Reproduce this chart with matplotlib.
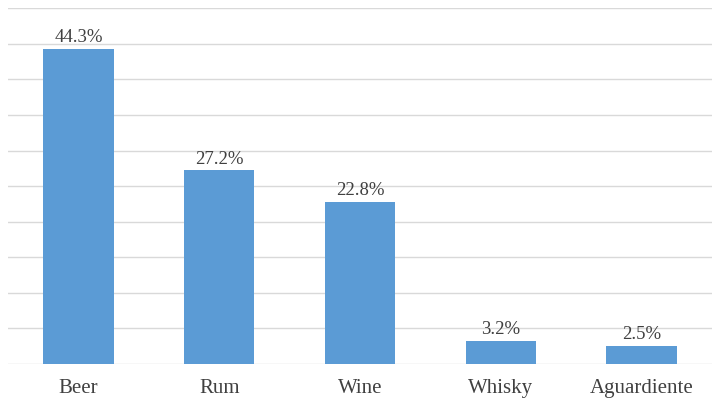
import matplotlib
matplotlib.use("Agg")
import matplotlib.pyplot as plt
import numpy as np

categorias = ["Beer", "Rum", "Wine", "Whisky", "Aguardiente"]
porcentajes = [44.3, 27.2, 22.8, 3.2, 2.5]
etiquetas = ["44.3%", "27.2%", "22.8%", "3.2%", "2.5%"]

plt.rcParams["font.family"] = ["Liberation Serif", "DejaVu Serif"]

fig = plt.figure(figsize=(7.2, 4.05), dpi=100)
ax = fig.add_axes([8 / 720, 1 - 364 / 405, 704 / 720, (364 - 8.3) / 405])

x = np.arange(len(categorias))
barras = ax.bar(x, porcentajes, width=0.5, color="#5B9BD5", zorder=2)

# etiquetas encima de cada barra
for b, txt in zip(barras, etiquetas):
    ax.annotate(txt, (b.get_x() + b.get_width() / 2, b.get_height()),
                xytext=(0, 2), textcoords="offset points",
                ha="center", va="bottom", fontsize=13.5, color="#404040")

ax.set_xlim(-0.5, len(categorias) - 0.5)
ax.set_ylim(0, 50)
ax.set_yticks(np.arange(0, 51, 5))
ax.set_yticklabels([])
ax.set_xticks(x)
ax.set_xticklabels(categorias, fontsize=15, color="#404040")
ax.tick_params(axis="both", length=0)
ax.tick_params(axis="x", pad=11)
ax.grid(axis="y", color="#D9D9D9", linewidth=1, zorder=0)
for s in ax.spines.values():
    s.set_visible(False)

plt.savefig("out.png", dpi=100)
plt.close()
